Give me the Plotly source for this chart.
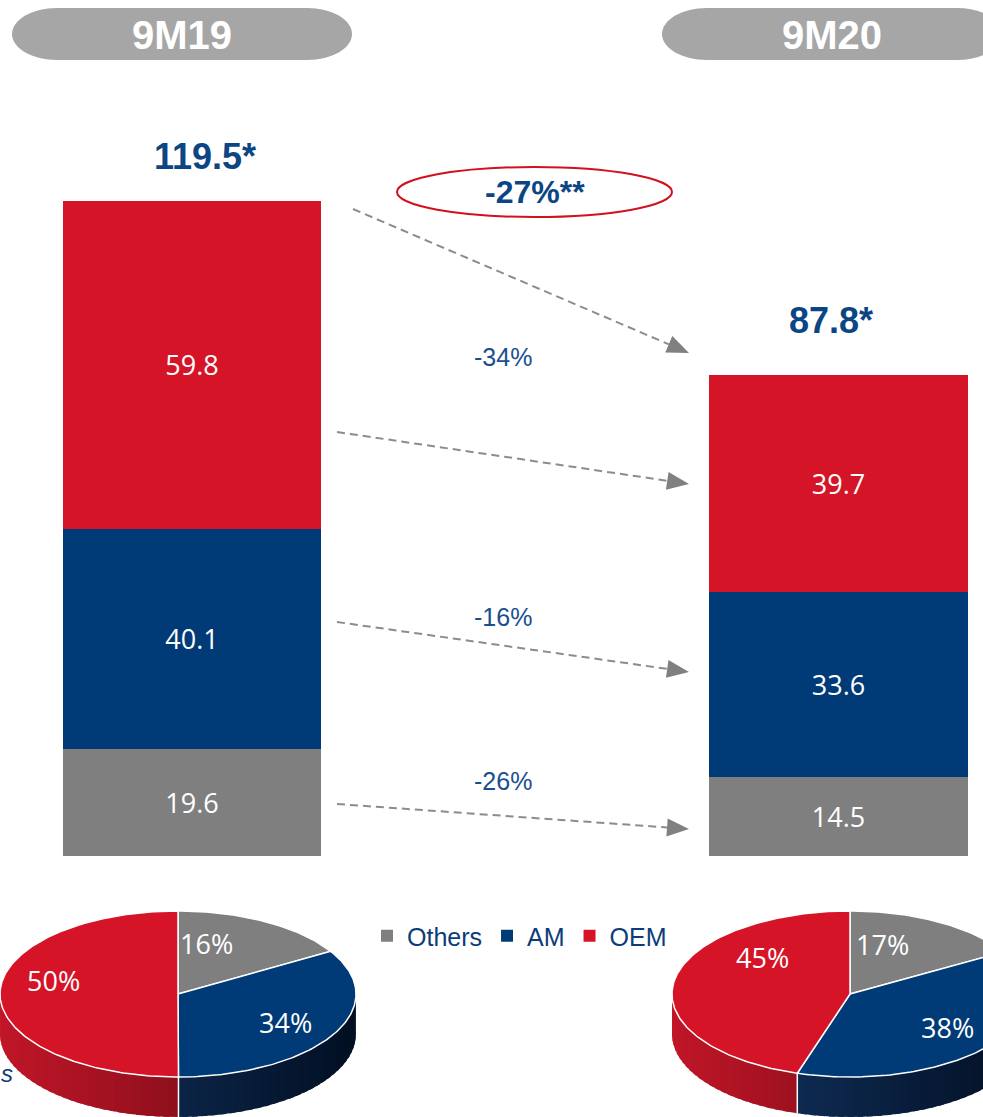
import math
import plotly.graph_objects as go

# ---------------- data ----------------
periods = ["9M19", "9M20"]
segments = ["Others", "AM", "OEM"]
others = [19.6, 14.5]
am = [40.1, 33.6]
oem = [59.8, 39.7]
series = {"Others": others, "AM": am, "OEM": oem}

# ---------------- styles ----------------
W, H = 983, 1117
COL = {"Others": "#7f7f7f", "AM": "#003b77", "OEM": "#d51427"}
SIDE = {"Others": ("#6a6a6a", "#3a3a3a"),
        "AM": ("#14386a", "#020f22"),
        "OEM": ("#c01628", "#5c0810")}
NAVY = "#0b4584"
TXT_BLUE = "#1a4f8e"

BAR_X = [0, 1]
BAR_W = 0.4
X_RANGE = [-192 / 646.5, (W - 192) / 646.5]
PXU = 5.481  # pixels per unit
Y_RANGE = [-(H - 856) / PXU, 856 / PXU]

fig = go.Figure()

# ---------------- stacked bars ----------------
for s in segments:
    fig.add_trace(go.Bar(
        x=BAR_X, y=series[s], name=s, width=BAR_W,
        marker=dict(color=COL[s], line=dict(width=0)),
        texttemplate="%{y:.1f}", textposition="inside", insidetextanchor="middle",
        textangle=0,
        insidetextfont=dict(family="Open Sans", size=27, color="white"),
        hoverinfo="skip", xaxis="x", yaxis="y"))

totals = [others[i] + am[i] + oem[i] for i in range(2)]
tot_xshift = [13, -8]
tot_yshift = [45, 54]
for i in range(2):
    fig.add_annotation(x=BAR_X[i], y=totals[i], xref="x", yref="y",
                       text=f"<b>{totals[i]:.1f}*</b>", showarrow=False,
                       xshift=tot_xshift[i], yshift=tot_yshift[i],
                       font=dict(family="Liberation Sans, Arial", size=36, color=NAVY))

# ---------------- 3D pies (elliptical, from data) ----------------
PIE_CX = [178, 850]
PIE_CY = 994
PA, PB, DEPTH = 178, 83, 40


def hex2rgb(h):
    h = h.lstrip("#")
    return [int(h[i:i + 2], 16) for i in (0, 2, 4)]


def lerp_col(c0, c1, t):
    a, b = hex2rgb(c0), hex2rgb(c1)
    return "rgb(%d,%d,%d)" % tuple(round(a[k] + (b[k] - a[k]) * t) for k in range(3))


def pt(cx, th):
    r = math.radians(th)
    return cx + PA * math.sin(r), PIE_CY - PB * math.cos(r)


pie_label_pos = [[(206, 943), (285, 1022), (53, 980)],
                 [(882, 944), (947, 1027), (762, 957)]]

for p in range(2):
    cx = PIE_CX[p]
    vals = [series[s][p] for s in segments]
    tot = sum(vals)
    bounds = []
    c = 0
    for v in vals:
        bounds.append((c / tot * 360, (c + v) / tot * 360))
        c += v
    # sides (front half: 90..270 deg), drawn as overlapping gradient strips
    for s, (t0, t1) in zip(segments, bounds):
        a0, a1 = max(t0, 90), min(t1, 270)
        if a1 <= a0:
            continue
        n = max(1, int((a1 - a0) / 3))
        for k in range(n):
            u0 = a0 + (a1 - a0) * k / n
            u1 = min(a1, a0 + (a1 - a0) * (k + 1.6) / n)
            xa, ya = pt(cx, u0)
            xb, yb = pt(cx, u1)
            um = math.sin(math.radians((u0 + u1) / 2))
            col = lerp_col(SIDE[s][0], SIDE[s][1], (um + 1) / 2)
            fig.add_trace(go.Scatter(
                x=[xa, xb, xb, xa, xa], y=[ya, yb, yb + DEPTH, ya + DEPTH, ya],
                mode="lines", fill="toself", fillcolor=col,
                line=dict(color=col, width=0), hoverinfo="skip",
                showlegend=False, xaxis="x2", yaxis="y2"))
    for (t0, t1) in bounds:
        if 90 < t0 < 270:
            x0, y0 = pt(cx, t0)
            fig.add_trace(go.Scatter(x=[x0, x0], y=[y0, y0 + DEPTH], mode="lines",
                                     line=dict(color="white", width=1.5),
                                     hoverinfo="skip", showlegend=False,
                                     xaxis="x2", yaxis="y2"))
    # top faces
    for s, (t0, t1), v, lp in zip(segments, bounds, vals, pie_label_pos[p]):
        n = max(2, int(t1 - t0))
        xs, ys = [cx], [PIE_CY]
        for k in range(n + 1):
            x, y = pt(cx, t0 + (t1 - t0) * k / n)
            xs.append(x)
            ys.append(y)
        xs.append(cx)
        ys.append(PIE_CY)
        fig.add_trace(go.Scatter(x=xs, y=ys, mode="lines", fill="toself",
                                 fillcolor=COL[s], line=dict(color="white", width=1.5),
                                 hoverinfo="skip", showlegend=False,
                                 xaxis="x2", yaxis="y2"))
        fig.add_annotation(x=lp[0], y=lp[1], xref="x2", yref="y2",
                           text=f"{v / tot * 100:.0f}%", showarrow=False,
                           font=dict(family="Open Sans", size=27, color="white"))

# ---------------- headers (pills) ----------------
def pill(x0, x1, y0, y1, rx):
    k = 0.5523
    ym = (y0 + y1) / 2
    ry = (y1 - y0) / 2
    return (f"M{x0 + rx},{y0} L{x1 - rx},{y0} "
            f"C{x1 - rx + k * rx},{y0} {x1},{ym - k * ry} {x1},{ym} "
            f"C{x1},{ym + k * ry} {x1 - rx + k * rx},{y1} {x1 - rx},{y1} "
            f"L{x0 + rx},{y1} "
            f"C{x0 + rx - k * rx},{y1} {x0},{ym + k * ry} {x0},{ym} "
            f"C{x0},{ym - k * ry} {x0 + rx - k * rx},{y0} {x0 + rx},{y0} Z")


PILLS = [(12, 352), (662, 1002)]
for (x0, x1), lab in zip(PILLS, periods):
    fig.add_shape(type="path", path=pill(x0, x1, 8, 60, 45), xref="x2", yref="y2",
                  fillcolor="#a6a6a6", line=dict(width=0), layer="below")
    fig.add_annotation(x=(x0 + x1) / 2, y=35, xref="x2", yref="y2", text=f"<b>{lab}</b>",
                       showarrow=False,
                       font=dict(family="Liberation Sans, Arial", size=40, color="white"))

# ---------------- total change ellipse ----------------
tot_chg = (totals[1] / totals[0] - 1) * 100
fig.add_shape(type="circle", x0=397, x1=672, y0=167, y1=217, xref="x2", yref="y2",
              line=dict(color="#d0121f", width=2), fillcolor="rgba(0,0,0,0)")
fig.add_annotation(x=535, y=192, xref="x2", yref="y2", text=f"<b>{tot_chg:.0f}%**</b>",
                   showarrow=False,
                   font=dict(family="Liberation Sans, Arial", size=32, color=NAVY))

# ---------------- arrows ----------------
ARROWS = [(353, 209, 689, 353), (337, 432, 689, 484), (337, 622, 689, 672), (337, 804, 689, 829)]
for (x0, y0, x1, y1) in ARROWS:
    dx, dy = x1 - x0, y1 - y0
    L = math.hypot(dx, dy)
    ux, uy = dx / L, dy / L
    hl, hw = 22, 9
    bx, by = x1 - ux * hl, y1 - uy * hl
    fig.add_shape(type="line", x0=x0, y0=y0, x1=bx, y1=by, xref="x2", yref="y2",
                  line=dict(color="#8c8c8c", width=2, dash="8px,5px"))
    fig.add_shape(type="path", xref="x2", yref="y2",
                  path=f"M{x1},{y1} L{bx - uy * hw},{by + ux * hw} L{bx + uy * hw},{by - ux * hw} Z",
                  fillcolor="#808080", line=dict(width=0))

# segment change labels
CHG_POS = {"OEM": (503, 357), "AM": (503, 617), "Others": (503, 781)}
for s in segments:
    ch = (series[s][1] / series[s][0] - 1) * 100
    fig.add_annotation(x=CHG_POS[s][0], y=CHG_POS[s][1], xref="x2", yref="y2",
                       text=f"{ch:.0f}%", showarrow=False,
                       font=dict(family="Liberation Sans, Arial", size=25, color=TXT_BLUE))

# cropped footnote fragment
fig.add_annotation(x=7, y=1073, xref="x2", yref="y2", text="<i>s</i>", showarrow=False,
                   font=dict(family="Liberation Sans, Arial", size=24, color="#0d3c7a"))

fig.update_layout(
    width=W, height=H, margin=dict(l=0, r=0, t=0, b=0),
    paper_bgcolor="white", plot_bgcolor="rgba(0,0,0,0)",
    barmode="stack", bargap=0,
    xaxis=dict(range=X_RANGE, visible=False, domain=[0, 1], fixedrange=True),
    yaxis=dict(range=Y_RANGE, visible=False, domain=[0, 1], fixedrange=True),
    xaxis2=dict(range=[0, W], visible=False, overlaying="x", anchor="y2", fixedrange=True),
    yaxis2=dict(range=[H, 0], visible=False, overlaying="y", anchor="x2", fixedrange=True),
    showlegend=True,
    legend=dict(orientation="h", x=(380 - 13) / W, xanchor="left",
                y=1 - 936 / H, yanchor="middle", traceorder="normal",
                itemwidth=30,
                font=dict(family="Liberation Sans, Arial", size=25, color="#0d3c7a"),
                bgcolor="rgba(0,0,0,0)", borderwidth=0, itemclick=False,
                itemdoubleclick=False),
)

fig.write_html("out.html", config={"displayModeBar": False, "staticPlot": True},
               post_script="document.body.style.margin='0';document.body.style.overflow='hidden';")
